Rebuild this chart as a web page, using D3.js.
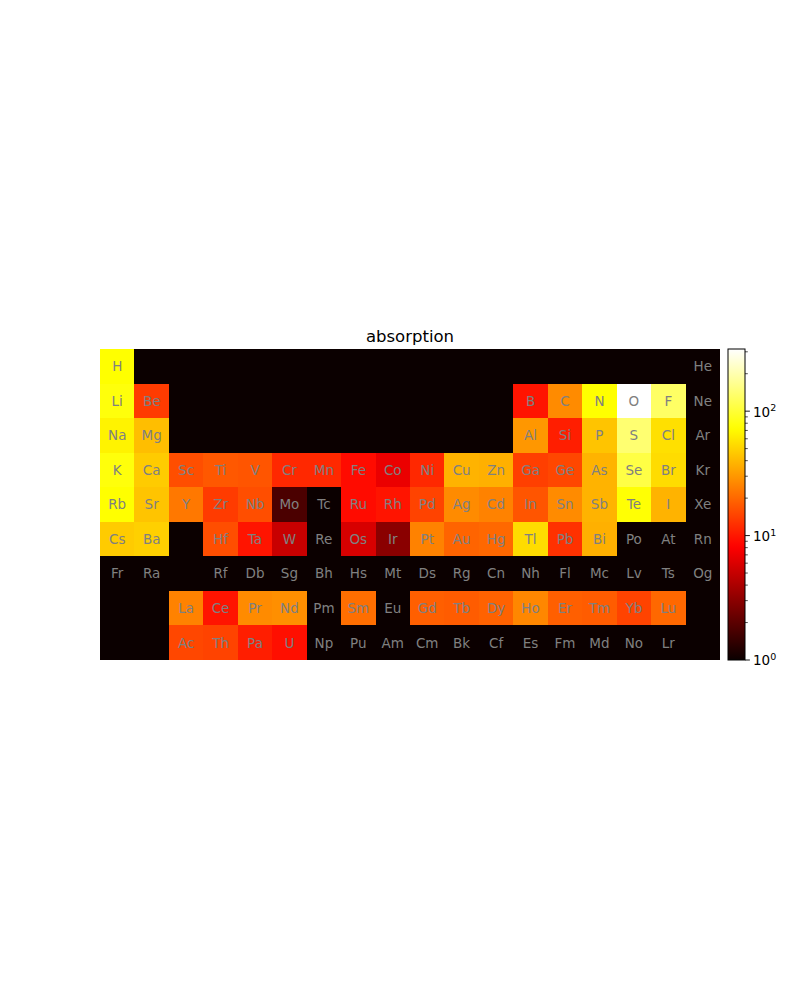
<!DOCTYPE html>
<html>
<head>
<meta charset="utf-8">
<script src="https://cdn.jsdelivr.net/npm/d3@7"></script>
<style>
  body { margin: 0; background: #fff; }
  svg { font-family: "DejaVu Sans", sans-serif; }
</style>
</head>
<body>
<div id="chart"></div>
<script>
// Element symbols, grid positions (period row, group column) and absorption values
var symbols = [
  "H","He",
  "Li","Be","B","C","N","O","F","Ne",
  "Na","Mg","Al","Si","P","S","Cl","Ar",
  "K","Ca","Sc","Ti","V","Cr","Mn","Fe","Co","Ni","Cu","Zn","Ga","Ge","As","Se","Br","Kr",
  "Rb","Sr","Y","Zr","Nb","Mo","Tc","Ru","Rh","Pd","Ag","Cd","In","Sn","Sb","Te","I","Xe",
  "Cs","Ba","Hf","Ta","W","Re","Os","Ir","Pt","Au","Hg","Tl","Pb","Bi","Po","At","Rn",
  "Fr","Ra","Rf","Db","Sg","Bh","Hs","Mt","Ds","Rg","Cn","Nh","Fl","Mc","Lv","Ts","Og",
  "La","Ce","Pr","Nd","Pm","Sm","Eu","Gd","Tb","Dy","Ho","Er","Tm","Yb","Lu",
  "Ac","Th","Pa","U","Np","Pu","Am","Cm","Bk","Cf","Es","Fm","Md","No","Lr"
];
var rows = [
  1,1,
  2,2,2,2,2,2,2,2,
  3,3,3,3,3,3,3,3,
  4,4,4,4,4,4,4,4,4,4,4,4,4,4,4,4,4,4,
  5,5,5,5,5,5,5,5,5,5,5,5,5,5,5,5,5,5,
  6,6,6,6,6,6,6,6,6,6,6,6,6,6,6,6,6,
  7,7,7,7,7,7,7,7,7,7,7,7,7,7,7,7,7,
  8,8,8,8,8,8,8,8,8,8,8,8,8,8,8,
  9,9,9,9,9,9,9,9,9,9,9,9,9,9,9
];
var cols = [
  1,18,
  1,2,13,14,15,16,17,18,
  1,2,13,14,15,16,17,18,
  1,2,3,4,5,6,7,8,9,10,11,12,13,14,15,16,17,18,
  1,2,3,4,5,6,7,8,9,10,11,12,13,14,15,16,17,18,
  1,2,4,5,6,7,8,9,10,11,12,13,14,15,16,17,18,
  1,2,4,5,6,7,8,9,10,11,12,13,14,15,16,17,18,
  3,4,5,6,7,8,9,10,11,12,13,14,15,16,17,
  3,4,5,6,7,8,9,10,11,12,13,14,15,16,17
];
var values = [
  73, 1,
  78, 13.6, 9.7, 27, 73, 316, 130, 1,
  66, 42, 30, 10.6, 44, 140, 56, 1,
  78, 47, 16, 17.5, 17, 11.5, 11.5, 9, 6.9, 11.5, 38, 37, 14, 15, 38, 109, 54, 1,
  73, 44, 23, 13.6, 16, 1.74, 1, 9, 9.7, 14.5, 27, 25, 17, 27, 38, 75, 38, 1,
  47, 49, 16, 9.7, 5.1, 1, 5.8, 3.0, 25, 19.4, 20, 54, 12.5, 37, 1, 1, 1,
  1, 1, 1, 1, 1, 1, 1, 1, 1, 1, 1, 1, 1, 1, 1, 1, 1,
  25, 9.7, 27, 28, 1, 21, 1, 18.5, 18, 19, 26, 18.5, 18, 14.5, 20,
  15, 14.5, 10.6, 9.3, 1, 1, 1, 1, 1, 1, 1, 1, 1, 1, 1
];
var colorDomain = [1, 316];
var title = "absorption";

// matplotlib "hot" colormap
function hot(t) {
  t = Math.max(0, Math.min(1, t));
  var r = t < 0.365079 ? 0.0416 + (1 - 0.0416) * t / 0.365079 : 1;
  var g = t < 0.365079 ? 0 : (t < 0.746032 ? (t - 0.365079) / (0.746032 - 0.365079) : 1);
  var b = t < 0.746032 ? 0 : (t - 0.746032) / (1 - 0.746032);
  return d3.rgb(r * 255, g * 255, b * 255).toString();
}

var width = 800, height = 1000;
var plotLeft = 100, plotRight = 720, plotTop = 349, plotBottom = 660;

var svg = d3.select("#chart").append("svg")
    .attr("width", width)
    .attr("height", height);

var x = d3.scaleBand().domain(d3.range(1, 19)).range([plotLeft, plotRight]);
var y = d3.scaleBand().domain(d3.range(1, 10)).range([plotTop, plotBottom]);

var logScale = d3.scaleLog().domain(colorDomain).range([0, 1]);
var color = function (v) { return hot(logScale(v)); };

// full grid, empty cells get the minimum value
var lookup = {};
symbols.forEach(function (s, i) {
  lookup[rows[i] + "-" + cols[i]] = { sym: s, value: values[i], r: rows[i], c: cols[i] };
});
var cells = [];
for (var r = 1; r <= 9; r++) {
  for (var c = 1; c <= 18; c++) {
    cells.push(lookup[r + "-" + c] || { sym: "", value: colorDomain[0], r: r, c: c });
  }
}

// background in the minimum colour so no seams show between cells
svg.append("rect")
    .attr("x", plotLeft)
    .attr("y", plotTop)
    .attr("width", plotRight - plotLeft)
    .attr("height", plotBottom - plotTop)
    .attr("fill", color(colorDomain[0]));

svg.append("g")
    .attr("shape-rendering", "crispEdges")
    .selectAll("rect")
    .data(cells)
    .enter().append("rect")
    .attr("x", d => Math.round(x(d.c)))
    .attr("y", d => Math.round(y(d.r)))
    .attr("width", d => Math.round(x(d.c) + x.bandwidth()) - Math.round(x(d.c)))
    .attr("height", d => Math.round(y(d.r) + y.bandwidth()) - Math.round(y(d.r)))
    .attr("fill", d => color(d.value));

svg.append("g").selectAll("text")
    .data(cells.filter(d => d.sym))
    .enter().append("text")
    .attr("x", d => x(d.c) + x.bandwidth() / 2)
    .attr("y", d => y(d.r) + y.bandwidth() / 2)
    .attr("dy", "0.36em")
    .attr("text-anchor", "middle")
    .attr("font-size", 13.5)
    .attr("fill", "#808080")
    .text(d => d.sym);

svg.append("text")
    .attr("x", (plotLeft + plotRight) / 2)
    .attr("y", plotTop - 7)
    .attr("text-anchor", "middle")
    .attr("font-size", 16.5)
    .attr("fill", "#000")
    .text(title);

// colorbar
var cbX = 728, cbW = 17;
var cbScale = d3.scaleLog().domain(colorDomain).range([plotBottom, plotTop]);
var defs = svg.append("defs");
var grad = defs.append("linearGradient")
    .attr("id", "cbgrad")
    .attr("x1", 0).attr("y1", 1).attr("x2", 0).attr("y2", 0);
grad.selectAll("stop")
    .data(d3.range(0, 1.0001, 0.02))
    .enter().append("stop")
    .attr("offset", d => d)
    .attr("stop-color", d => hot(d));

svg.append("rect")
    .attr("x", cbX)
    .attr("y", plotTop)
    .attr("width", cbW)
    .attr("height", plotBottom - plotTop)
    .attr("fill", "url(#cbgrad)")
    .attr("stroke", "#000")
    .attr("stroke-width", 1);

var allTicks = cbScale.ticks();
var majors = allTicks.filter(t => Math.abs(Math.log10(t) - Math.round(Math.log10(t))) < 1e-9);

var cbAxis = svg.append("g")
    .attr("transform", "translate(" + (cbX + cbW) + ",0)");

cbAxis.selectAll("line.minor")
    .data(allTicks.filter(t => majors.indexOf(t) < 0))
    .enter().append("line")
    .attr("class", "minor")
    .attr("x1", 0).attr("x2", 2.8)
    .attr("y1", d => cbScale(d)).attr("y2", d => cbScale(d))
    .attr("stroke", "#000").attr("stroke-width", 0.7);

cbAxis.selectAll("line.major")
    .data(majors)
    .enter().append("line")
    .attr("class", "major")
    .attr("x1", 0).attr("x2", 4.9)
    .attr("y1", d => cbScale(d)).attr("y2", d => cbScale(d))
    .attr("stroke", "#000").attr("stroke-width", 0.9);

var lbl = cbAxis.selectAll("text.lbl")
    .data(majors)
    .enter().append("text")
    .attr("class", "lbl")
    .attr("x", 8)
    .attr("y", d => cbScale(d))
    .attr("dy", "0.4em")
    .attr("font-size", 13.5)
    .attr("fill", "#000");
lbl.append("tspan").text("10");
lbl.append("tspan")
    .attr("dy", "-0.55em")
    .attr("font-size", 9.5)
    .text(d => Math.round(Math.log10(d)));
</script>
</body>
</html>
